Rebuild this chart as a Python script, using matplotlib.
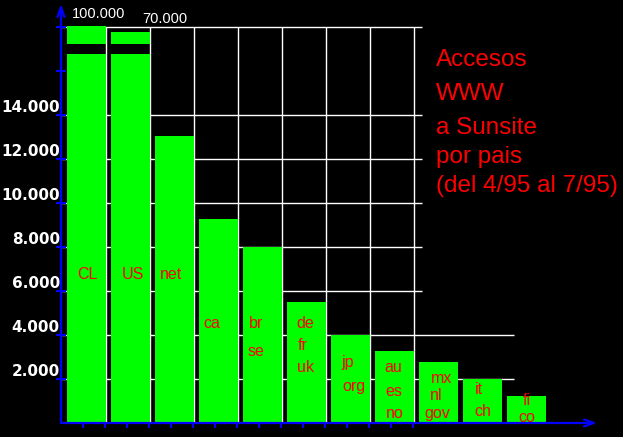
import matplotlib.pyplot as plt

plt.rcParams['font.family'] = ['Liberation Sans', 'DejaVu Sans']

# datos: accesos por grupo de dominios
grupos = [["CL"], ["US"], ["net"], ["ca"], ["br", "se"], ["de", "fr", "uk"],
          ["jp", "org"], ["au", "es", "no"], ["mx", "nl", "gov"],
          ["it", "ch"], ["fi", "co"]]
accesos = [100000, 70000, 13050, 9270, 8000, 5500, 4000, 3270, 2770, 2000, 1230]
etiquetas_grandes = ["100.000", "70.000"]
y_ticks = [2000, 4000, 6000, 8000, 10000, 12000, 14000]
y_labels = ["2.000", "4.000", "6.000", "8.000", "10.000", "12.000", "14.000"]
titulo = ["Accesos", "WWW", "a Sunsite", "por pais", "(del 4/95 al 7/95)"]

# posiciones de los textos dentro de las barras (dx respecto al centro, y)
pos_textos = [
    [(0.03, 6770)], [(0.06, 6770)], [(-0.08, 6770)], [(-0.16, 4500)],
    [(-0.14, 4500), (-0.14, 3230)],
    [(-0.02, 4500), (-0.09, 3500), (-0.02, 2500)],
    [(-0.07, 2730), (0.07, 1640)],
    [(-0.02, 2500), (-0.02, 1450), (0.0, 450)],
    [(0.06, 2000), (-0.06, 1230), (-0.03, 450)],
    [(-0.08, 1500), (0.0, 500)],
    [(0.01, 1000), (0.01, 230)],
]
pos_grandes = [(-0.33, 18400), (1.26, 18200)]

corte_bajo = 16770
corte_alto = 17230
largo_tope = 800

fig = plt.figure(figsize=(6.23, 4.37), dpi=100, facecolor='black')
ax = fig.add_axes([61 / 623, 14 / 437, 536 / 623, 419 / 437])
ax.set_facecolor('black')
ax.set_xlim(-0.5795, 11.602)
ax.set_ylim(0, 19045)
for s in ax.spines.values():
    s.set_visible(False)

# grilla irregular
ax.hlines([6000, 8000, 10000, 12000, 14000, 18000], -0.5795, 7.63,
          color='white', lw=1, zorder=1)
ax.hlines([2000, 4000], -0.5795, 9.71, color='white', lw=1, zorder=1)
ax.vlines([i + 0.44 for i in range(8)], 0, 18000, color='white', lw=1, zorder=1)

# barras (con corte para las dos primeras)
x = list(range(len(accesos)))
bajos = [min(v, corte_bajo) for v in accesos]
ax.bar(x, bajos, width=0.9, color='#00ff00', zorder=2)
for i, v in enumerate(accesos):
    if v > corte_bajo:
        ax.bar(i, largo_tope * v / max(accesos), bottom=corte_alto, width=0.9,
               color='#00ff00', zorder=2)

for v, (px, py) in zip(etiquetas_grandes, pos_grandes):
    ax.text(px, py, v, color='white', fontsize=10.5,
            ha='left', va='baseline', zorder=3)

for i, nombres in enumerate(grupos):
    for nombre, (dx, yy) in zip(nombres, pos_textos[i]):
        ax.text(i + dx, yy, nombre, color='red', fontsize=11.5,
                ha='center', va='center', zorder=3)

# ejes con flecha
ax.annotate('', xy=(0, 1), xytext=(0, 0), xycoords='axes fraction',
            arrowprops=dict(arrowstyle='->,head_length=0.7,head_width=0.25',
                            color='blue', lw=1.6, shrinkA=0, shrinkB=0))
ax.annotate('', xy=(1, 0), xytext=(0, 0), xycoords='axes fraction',
            arrowprops=dict(arrowstyle='->,head_length=0.7,head_width=0.25',
                            color='blue', lw=1.6, shrinkA=0, shrinkB=0))

ax.set_xticks([-0.08 + 0.5 * k for k in range(16)], labels=[])
ax.tick_params(axis='x', direction='out', length=3.6, width=1.5, color='blue')
ax.set_yticks(list(range(2000, 18001, 2000)), labels=[])
ax.tick_params(axis='y', direction='inout', length=7.5, width=1.5, color='blue')

for t, lab in zip(y_ticks, y_labels):
    ax.text(-0.002, t + 320, lab, transform=ax.get_yaxis_transform(),
            color='white', fontsize=11, fontweight='bold', family='DejaVu Sans',
            ha='right', va='center')

# titulo
bases = [66.5, 100.5, 134.5, 163.5, 192]
for linea, b in zip(titulo, bases):
    ax.text((436 - 86.5) / 44, (423 - b) / 0.022, linea, color='red',
            fontsize=17.5, ha='left', va='baseline', zorder=3)

fig.savefig('out.png', dpi=100, facecolor='black')
